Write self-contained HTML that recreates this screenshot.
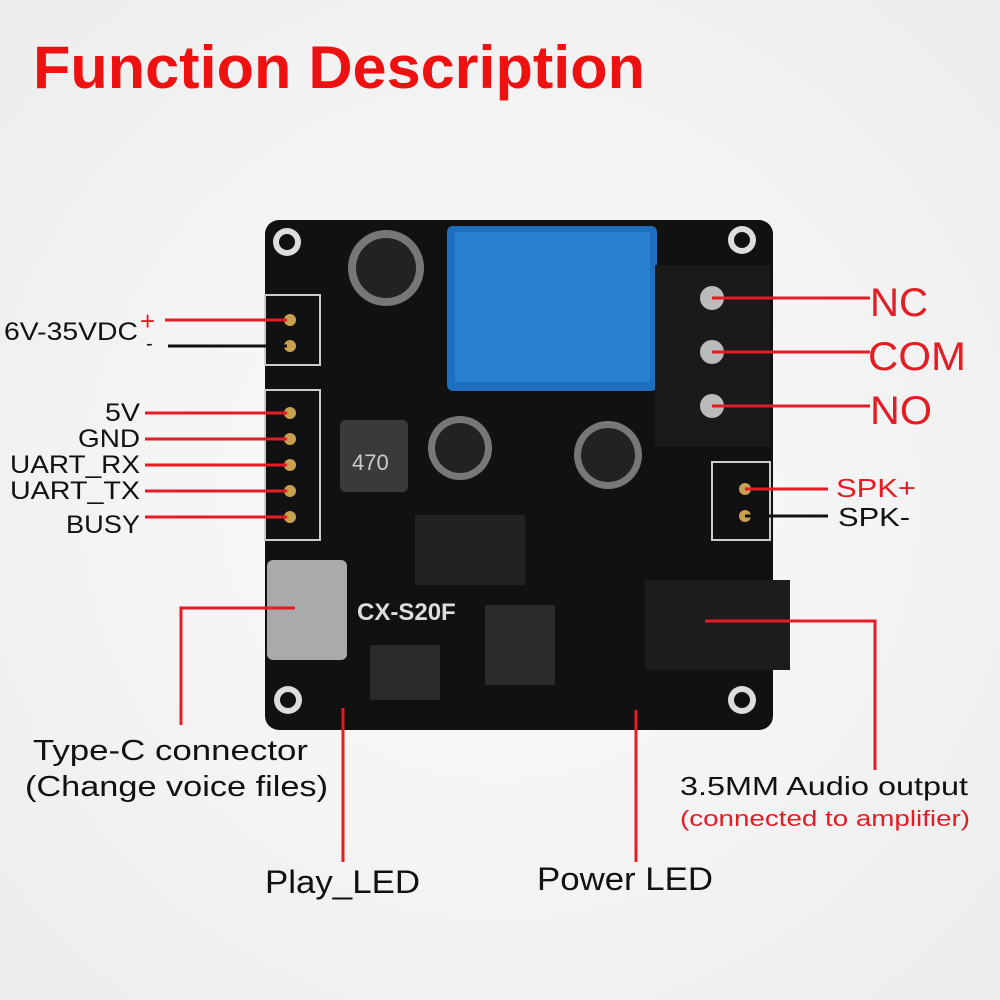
<!DOCTYPE html>
<html><head><meta charset="utf-8"><style>
body{margin:0;width:1000px;height:1000px;background:#f6f6f6;overflow:hidden;font-family:"Liberation Sans",sans-serif}
</style></head><body>
<svg width="1000" height="1000" xmlns="http://www.w3.org/2000/svg" style="position:absolute;left:0;top:0">
<defs><radialGradient id="bg" cx="50%" cy="50%" r="70%"><stop offset="0" stop-color="#fbfbfb"/><stop offset="1" stop-color="#ededed"/></radialGradient></defs>
<rect width="1000" height="1000" fill="url(#bg)"/>
<text x="33" y="88" font-size="60" font-weight="bold" fill="#ee1111" textLength="612" lengthAdjust="spacingAndGlyphs">Function Description</text>
<rect x="265" y="220" width="508" height="510" rx="14" fill="#111"/>
<g fill="#ddd"><circle cx="287" cy="242" r="14"/><circle cx="742" cy="240" r="14"/><circle cx="288" cy="700" r="14"/><circle cx="742" cy="700" r="14"/></g>
<g fill="#111"><circle cx="287" cy="242" r="8"/><circle cx="742" cy="240" r="8"/><circle cx="288" cy="700" r="8"/><circle cx="742" cy="700" r="8"/></g>
<rect x="447" y="226" width="210" height="165" rx="6" fill="#1f6fc0"/>
<rect x="455" y="232" width="195" height="150" fill="#2a7fd0"/>
<rect x="655" y="265" width="115" height="182" fill="#1a1a1a"/>
<g fill="#bbb"><circle cx="712" cy="298" r="12"/><circle cx="712" cy="352" r="12"/><circle cx="712" cy="406" r="12"/></g>
<circle cx="386" cy="268" r="38" fill="#777"/><circle cx="386" cy="268" r="30" fill="#222"/>
<circle cx="460" cy="448" r="32" fill="#777"/><circle cx="460" cy="448" r="25" fill="#222"/>
<circle cx="608" cy="455" r="34" fill="#777"/><circle cx="608" cy="455" r="27" fill="#222"/>
<rect x="340" y="420" width="68" height="72" rx="5" fill="#3a3a3a"/>
<text x="352" y="470" font-size="22" fill="#ccc">470</text>
<rect x="267" y="560" width="80" height="100" rx="6" fill="#aaa"/>
<rect x="645" y="580" width="145" height="90" fill="#1c1c1c"/>
<rect x="415" y="515" width="110" height="70" fill="#222"/>
<rect x="485" y="605" width="70" height="80" fill="#2a2a2a"/>
<rect x="370" y="645" width="70" height="55" fill="#2a2a2a"/>
<text x="357" y="620" font-size="24" font-weight="bold" fill="#ddd">CX-S20F</text>
<rect x="265" y="295" width="55" height="70" fill="none" stroke="#ccc" stroke-width="2"/>
<rect x="265" y="390" width="55" height="150" fill="none" stroke="#ccc" stroke-width="2"/>
<rect x="712" y="462" width="58" height="78" fill="none" stroke="#ccc" stroke-width="2"/>
<g fill="#c8a050"><circle cx="290" cy="320" r="6"/><circle cx="290" cy="346" r="6"/><circle cx="290" cy="413" r="6"/><circle cx="290" cy="439" r="6"/><circle cx="290" cy="465" r="6"/><circle cx="290" cy="491" r="6"/><circle cx="290" cy="517" r="6"/><circle cx="745" cy="489" r="6"/><circle cx="745" cy="516" r="6"/></g>
<g stroke="#e41c24" stroke-width="3" fill="none">
<line x1="165" y1="320" x2="287" y2="320"/>
<line x1="145" y1="413" x2="287" y2="413"/><line x1="145" y1="439" x2="287" y2="439"/><line x1="145" y1="465" x2="287" y2="465"/><line x1="145" y1="491" x2="287" y2="491"/><line x1="145" y1="517" x2="287" y2="517"/>
<line x1="712" y1="298" x2="870" y2="298"/><line x1="712" y1="352" x2="870" y2="352"/><line x1="712" y1="406" x2="870" y2="406"/>
<line x1="745" y1="489" x2="828" y2="489"/>
<polyline points="295,608 181,608 181,725"/>
<polyline points="705,621 875,621 875,770"/>
<line x1="343" y1="708" x2="343" y2="862"/>
<line x1="636" y1="710" x2="636" y2="862"/>
</g>
<line x1="168" y1="346" x2="287" y2="346" stroke="#111" stroke-width="3"/>
<line x1="745" y1="516" x2="828" y2="516" stroke="#111" stroke-width="3"/>
<g fill="#111" lengthAdjust="spacingAndGlyphs">
<text x="4" y="340" font-size="25" textLength="134" lengthAdjust="spacingAndGlyphs">6V-35VDC</text>
<text x="140" y="330" font-size="26" fill="#e41c24">+</text>
<text x="146" y="350" font-size="20">-</text>
<text x="105" y="421" font-size="25" textLength="35" lengthAdjust="spacingAndGlyphs">5V</text>
<text x="78" y="447" font-size="25" textLength="62" lengthAdjust="spacingAndGlyphs">GND</text>
<text x="10" y="473" font-size="25" textLength="130" lengthAdjust="spacingAndGlyphs">UART_RX</text>
<text x="10" y="499" font-size="25" textLength="130" lengthAdjust="spacingAndGlyphs">UART_TX</text>
<text x="66" y="533" font-size="25" textLength="74" lengthAdjust="spacingAndGlyphs">BUSY</text>
<text x="870" y="316" font-size="40" fill="#e41c24" textLength="58" lengthAdjust="spacingAndGlyphs">NC</text>
<text x="868" y="370" font-size="40" fill="#e41c24" textLength="98" lengthAdjust="spacingAndGlyphs">COM</text>
<text x="870" y="424" font-size="40" fill="#e41c24" textLength="62" lengthAdjust="spacingAndGlyphs">NO</text>
<text x="836" y="497" font-size="26" fill="#e41c24" textLength="80" lengthAdjust="spacingAndGlyphs">SPK+</text>
<text x="838" y="526" font-size="26" textLength="72" lengthAdjust="spacingAndGlyphs">SPK-</text>
<text x="33" y="760" font-size="29" textLength="275" lengthAdjust="spacingAndGlyphs">Type-C connector</text>
<text x="25" y="796" font-size="29" textLength="303" lengthAdjust="spacingAndGlyphs">(Change voice files)</text>
<text x="680" y="795" font-size="26" textLength="288" lengthAdjust="spacingAndGlyphs">3.5MM Audio output</text>
<text x="680" y="826" font-size="22" fill="#e41c24" textLength="290" lengthAdjust="spacingAndGlyphs">(connected to amplifier)</text>
<text x="265" y="893" font-size="32" textLength="155" lengthAdjust="spacingAndGlyphs">Play_LED</text>
<text x="537" y="890" font-size="32" textLength="176" lengthAdjust="spacingAndGlyphs">Power LED</text>
</g>
</svg>
</body></html>
